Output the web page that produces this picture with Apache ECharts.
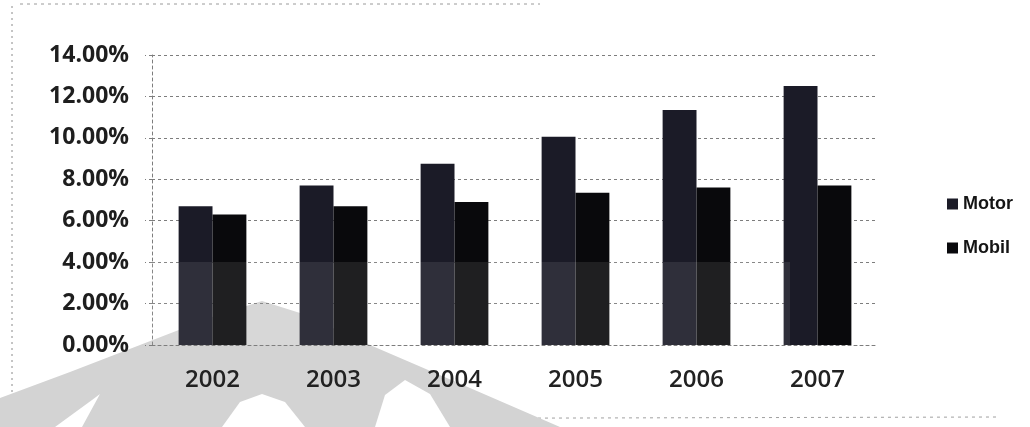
<!DOCTYPE html>
<html>
<head>
<meta charset="utf-8">
<title>Motor / Mobil 2002–2007</title>
<script src="https://cdn.jsdelivr.net/npm/echarts@6/dist/echarts.min.js"></script>
<style>
  html, body { margin: 0; padding: 0; background: #ffffff; }
  #chart { width: 1030px; height: 427px; }
</style>
</head>
<body>
<div id="chart"></div>
<script>
// Years on the category axis
const years = ['2002', '2003', '2004', '2005', '2006', '2007'];
// Growth shares, in percent
const motor = [6.7, 7.7, 8.75, 10.05, 11.35, 12.5];
const mobil = [6.3, 6.7, 6.9, 7.35, 7.6, 7.7];
// Value axis range (percent)
const yMin = 0;
const yMax = 14;
const yStep = 2;

const chart = echarts.init(document.getElementById('chart'), null, { renderer: 'canvas' });

const gridLine = { color: '#7d7d7d', width: 1, type: [3, 3] };

chart.setOption({
  backgroundColor: '#ffffff',
  animation: false,
  grid: { left: 152, right: 152, top: 55, bottom: 82, containLabel: false },
  legend: {
    orient: 'vertical',
    left: 942,
    top: 190,
    itemWidth: 11,
    itemHeight: 11,
    itemGap: 26,
    icon: 'rect',
    textStyle: {
      fontFamily: 'Liberation Sans',
      fontWeight: 'bold',
      fontSize: 18,
      color: '#151515',
      padding: [0, 0, 0, 0]
    },
    data: ['Motor', 'Mobil']
  },
  xAxis: {
    type: 'category',
    data: years,
    z: 5,
    axisLine: { show: true, lineStyle: gridLine },
    axisTick: { show: false },
    axisLabel: {
      margin: 23,
      fontFamily: 'Open Sans',
      fontWeight: 600,
      fontSize: 24,
      color: '#222222'
    }
  },
  yAxis: {
    type: 'value',
    min: yMin,
    max: yMax,
    interval: yStep,
    z: 5,
    axisLine: { show: true, lineStyle: gridLine },
    axisTick: { show: true, length: 7, lineStyle: gridLine },
    splitLine: { show: true, lineStyle: gridLine },
    axisLabel: {
      margin: 23,
      fontFamily: 'Open Sans',
      fontWeight: 'bold',
      fontSize: 23,
      color: '#1e1e1e',
      formatter: v => v.toFixed(2) + '%'
    }
  },
  series: [
    {
      name: 'Motor',
      type: 'bar',
      z: 6,
      data: motor,
      barGap: '0%',
      barCategoryGap: '44%',
      itemStyle: { color: '#1b1b27' }
    },
    {
      name: 'Mobil',
      type: 'bar',
      z: 6,
      data: mobil,
      itemStyle: { color: '#09090c' }
    }
  ],
  graphic: [
    // dashed frame edges of the pasted chart
    { type: 'line', shape: { x1: 12, y1: 6, x2: 12, y2: 427 },
      style: { stroke: '#8a8a8a', lineWidth: 1, lineDash: [2, 4] }, z: 1 },
    { type: 'line', shape: { x1: 20, y1: 4, x2: 540, y2: 4 },
      style: { stroke: '#9a9a9a', lineWidth: 1, lineDash: [3, 4] }, z: 1 },
    { type: 'line', shape: { x1: 160, y1: 419, x2: 1000, y2: 417 },
      style: { stroke: '#a0a0a0', lineWidth: 1, lineDash: [3, 4] }, z: 1 },
    // pale watermark emblem behind the bars and labels
    { type: 'polygon',
      shape: { points: [[0, 427], [0, 398], [70, 372], [140, 345], [215, 316], [262, 301],
                        [300, 313], [370, 345], [470, 388], [560, 427]] },
      style: { fill: '#d3d3d3' }, z: 1 },
    { type: 'polygon',
      shape: { points: [[55, 427], [92, 400], [100, 394], [82, 427]] },
      style: { fill: '#ffffff' }, z: 2 },
    { type: 'polygon',
      shape: { points: [[222, 427], [240, 402], [262, 394], [285, 402], [305, 427]] },
      style: { fill: '#ffffff' }, z: 2 },
    { type: 'polygon',
      shape: { points: [[375, 427], [385, 395], [405, 380], [430, 394], [450, 427]] },
      style: { fill: '#ffffff' }, z: 2 },
    // faint light band over the lower part of the bars
    { type: 'rect', shape: { x: 150, y: 262, width: 640, height: 83 },
      style: { fill: 'rgba(255,255,255,0.09)' }, z: 100 }
  ]
});
</script>
</body>
</html>
